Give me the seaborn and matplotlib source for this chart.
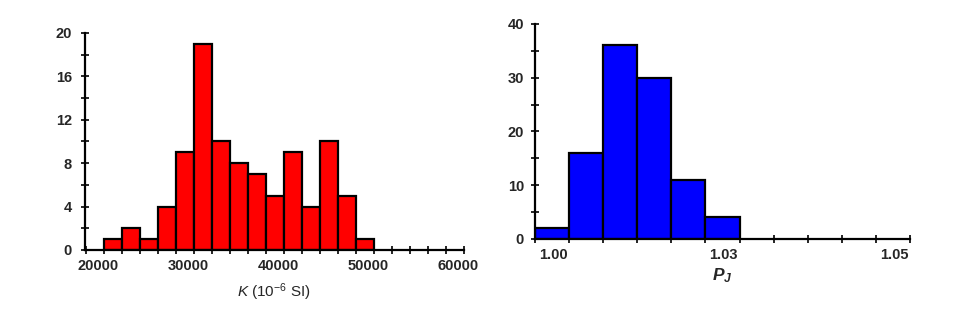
import matplotlib
matplotlib.use('Agg')
import matplotlib.pyplot as plt
import matplotlib.transforms as mtransforms
from matplotlib.ticker import MultipleLocator
import seaborn as sns

# ---- data ----
k_edges = [20000, 22000, 24000, 26000, 28000, 30000, 32000, 34000,
           36000, 38000, 40000, 42000, 44000, 46000, 48000, 50000]
k_counts = [1, 2, 1, 4, 9, 19, 10, 8, 7, 5, 9, 4, 10, 5, 1]
k_ticks = [20000, 30000, 40000, 50000, 60000]
k_ticklabels = ['20000', '30000', '40000', '50000', '60000']

pj_edges = [0.995, 1.000, 1.005, 1.010, 1.015, 1.020, 1.025]
pj_counts = [2, 16, 36, 30, 11, 4]
pj_ticks = [1.000, 1.025, 1.050]
pj_ticklabels = ['1.00', '1.03', '1.05']

k_centers = [(a + b) / 2 for a, b in zip(k_edges[:-1], k_edges[1:])]
pj_centers = [(a + b) / 2 for a, b in zip(pj_edges[:-1], pj_edges[1:])]

sns.set_style('ticks')
plt.rcParams['font.family'] = ['Liberation Sans', 'DejaVu Sans']
plt.rcParams['mathtext.fontset'] = 'custom'
plt.rcParams['mathtext.rm'] = 'Liberation Sans'
plt.rcParams['mathtext.it'] = 'Liberation Sans:italic'
plt.rcParams['mathtext.bf'] = 'Liberation Sans:bold:italic'

fig = plt.figure(figsize=(9.58, 3.36), dpi=100)
ax1 = fig.add_axes([0.0887, 0.256, 0.3956, 0.6458])
ax2 = fig.add_axes([0.5585, 0.2887, 0.3914, 0.6399])

sns.histplot(x=k_centers, weights=k_counts, bins=k_edges, ax=ax1,
             color='#ff0000', edgecolor='black', linewidth=1.6, alpha=1)
sns.histplot(x=pj_centers, weights=pj_counts, bins=pj_edges, ax=ax2,
             color='#0000ff', edgecolor='black', linewidth=1.6, alpha=1)

ax1.set_xlim(17889, 60000)
ax1.set_ylim(0, 20)
ax1.set_xticks(k_ticks, k_ticklabels)
ax1.xaxis.set_minor_locator(MultipleLocator(2000))
ax1.set_yticks([0, 4, 8, 12, 16, 20])
ax1.yaxis.set_minor_locator(MultipleLocator(2))

ax2.set_xlim(0.995, 1.050)
ax2.set_ylim(0, 40)
ax2.set_xticks(pj_ticks, pj_ticklabels)
ax2.xaxis.set_minor_locator(MultipleLocator(0.005))
ax2.set_yticks([0, 10, 20, 30, 40])
ax2.yaxis.set_minor_locator(MultipleLocator(5))

for ax, xoff, ypad in [(ax1, -6, 6.5), (ax2, -16, 5)]:
    ax.set_ylabel('')
    for s in ['top', 'right']:
        ax.spines[s].set_visible(False)
    for s in ['left', 'bottom']:
        ax.spines[s].set_linewidth(1.6)
        ax.spines[s].set_color('black')
    ax.tick_params(which='both', direction='inout', length=6, width=1.2,
                   color='black')
    ax.tick_params(axis='x', which='major', pad=3.5, labelsize=10.5)
    ax.tick_params(axis='y', which='major', pad=ypad, labelsize=10.5)
    for lab in ax.get_xticklabels() + ax.get_yticklabels():
        lab.set_fontweight('bold')
    off = mtransforms.ScaledTranslation(xoff / 100, 0, fig.dpi_scale_trans)
    for lab in ax.get_xticklabels():
        lab.set_transform(lab.get_transform() + off)

ax1.set_xlabel(r'$K$ (10$^{-6}$ SI)', fontsize=11, labelpad=6)
ax2.set_xlabel(r'$\mathbf{P}_{\mathbf{J}}$', fontsize=12.5, labelpad=3)

fig.savefig('out.png', dpi=100)
